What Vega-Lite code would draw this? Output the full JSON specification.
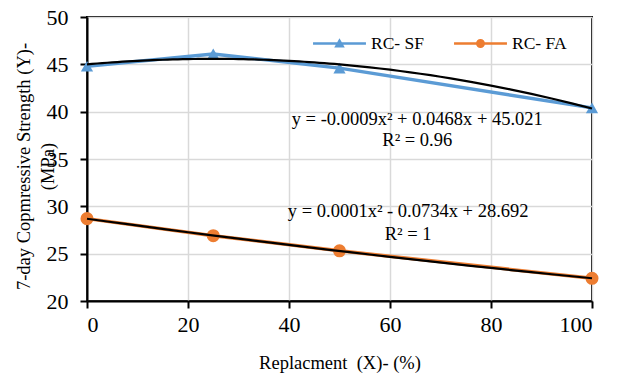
{
  "$schema": "https://vega.github.io/schema/vega-lite/v6.json",
  "autosize": {"type": "none"},
  "padding": {"left": 87, "top": 17, "right": 28, "bottom": 73},
  "width": 505,
  "height": 284,
  "background": "white",
  "config": {
    "font": "Liberation Serif",
    "view": {"stroke": "black", "strokeWidth": 2},
    "axis": {
      "labelFont": "Liberation Serif",
      "labelFontSize": 22,
      "labelColor": "black",
      "titleFont": "Liberation Serif",
      "titleFontSize": 18.5,
      "titleFontWeight": "normal",
      "titleColor": "black",
      "domainColor": "black",
      "domainWidth": 2,
      "tickColor": "black",
      "tickWidth": 2,
      "tickSize": 7,
      "gridColor": "#d9d9d9",
      "gridWidth": 1.5
    }
  },
  "datasets": {
    "pts": [
      {"series": "RC- SF", "x": 0, "y": 44.8},
      {"series": "RC- SF", "x": 25, "y": 46.1},
      {"series": "RC- SF", "x": 50, "y": 44.6},
      {"series": "RC- SF", "x": 100, "y": 40.4},
      {"series": "RC- FA", "x": 0, "y": 28.7},
      {"series": "RC- FA", "x": 25, "y": 26.9},
      {"series": "RC- FA", "x": 50, "y": 25.3},
      {"series": "RC- FA", "x": 100, "y": 22.4}
    ],
    "notes": [
      {"x": 65.4, "y": 39.2, "label": "y = -0.0009x² + 0.0468x + 45.021"},
      {"x": 65.4, "y": 37.0, "label": "R² = 0.96"},
      {"x": 63.6, "y": 29.5, "label": "y = 0.0001x² - 0.0734x + 28.692"},
      {"x": 63.6, "y": 27.1, "label": "R² = 1"}
    ]
  },
  "layer": [
    {
      "data": {"name": "pts"},
      "transform": [{"filter": "datum.series === 'RC- SF'"}],
      "mark": {"type": "line", "color": "#5B9BD5", "strokeWidth": 3.5},
      "encoding": {
        "x": {"field": "x", "type": "quantitative", "scale": {"domain": [0, 100]},
              "axis": {"values": [0, 20, 40, 60, 80, 100], "title": "Replacment\u00a0 (X)- (%)", "labelPadding": 6, "titleY": 61, "titleBaseline": "middle"}},
        "y": {"field": "y", "type": "quantitative", "scale": {"domain": [20, 50]},
              "axis": {"values": [20, 25, 30, 35, 40, 45, 50], "title": ["7-day Copmressive Strength (Y)-", "(MPa)"], "labelPadding": 12, "titleX": -64, "titleY": 149, "titleBaseline": "middle", "titleLineHeight": 24}}
      }
    },
    {
      "data": {"name": "pts"},
      "transform": [{"filter": "datum.series === 'RC- FA'"}],
      "mark": {"type": "line", "color": "#ED7D31", "strokeWidth": 3.5},
      "encoding": {
        "x": {"field": "x", "type": "quantitative"},
        "y": {"field": "y", "type": "quantitative"}
      }
    },
    {
      "data": {"name": "pts"},
      "transform": [{"filter": "datum.series === 'RC- SF'"}],
      "mark": {"type": "point", "shape": "triangle-up", "filled": true, "opacity": 1, "color": "#5B9BD5", "size": 150},
      "encoding": {
        "x": {"field": "x", "type": "quantitative"},
        "y": {"field": "y", "type": "quantitative"}
      }
    },
    {
      "data": {"name": "pts"},
      "transform": [{"filter": "datum.series === 'RC- FA'"}],
      "mark": {"type": "point", "shape": "circle", "filled": true, "opacity": 1, "color": "#ED7D31", "size": 170},
      "encoding": {
        "x": {"field": "x", "type": "quantitative"},
        "y": {"field": "y", "type": "quantitative"}
      }
    },
    {
      "data": {"name": "pts"},
      "transform": [{"regression": "y", "on": "x", "groupby": ["series"], "method": "poly", "order": 2, "extent": [0, 100]}],
      "mark": {"type": "line", "color": "black", "strokeWidth": 2.2},
      "encoding": {
        "x": {"field": "x", "type": "quantitative"},
        "y": {"field": "y", "type": "quantitative"},
        "detail": {"field": "series"}
      }
    },
    {
      "data": {"name": "pts"},
      "mark": {"type": "point", "filled": true, "opacity": 0, "size": 2800},
      "encoding": {
        "x": {"field": "x", "type": "quantitative"},
        "y": {"field": "y", "type": "quantitative"},
        "color": {"field": "series", "type": "nominal",
                  "scale": {"domain": ["RC- SF", "RC- FA"], "range": ["#5B9BD5", "#ED7D31"]},
                  "legend": {"title": null, "orient": "none", "legendX": 226, "legendY": 0, "direction": "horizontal",
                             "symbolOpacity": 1, "symbolSize": 2800, "labelFont": "Liberation Serif", "labelFontSize": 17.5, "labelColor": "black", "labelOffset": 5, "columnPadding": 29, "symbolStrokeWidth": 0}},
        "shape": {"field": "series", "type": "nominal",
                  "scale": {"domain": ["RC- SF", "RC- FA"], "range": ["M-1,-0.05H1V0.05H-1Z M0,-0.2L0.2,0.15L-0.2,0.15Z", "M-1,-0.05H1V0.05H-1Z M0.17,0A0.17,0.17 0 1,1 -0.17,0A0.17,0.17 0 1,1 0.17,0Z"]},
                  "legend": {"title": null, "orient": "none", "legendX": 226, "legendY": 0, "direction": "horizontal",
                             "symbolOpacity": 1, "symbolSize": 2800, "labelFont": "Liberation Serif", "labelFontSize": 17.5, "labelColor": "black", "labelOffset": 5, "columnPadding": 29, "symbolStrokeWidth": 0}}
      }
    },
    {
      "data": {"name": "notes"},
      "mark": {"type": "text", "font": "Liberation Serif", "fontSize": 18.5, "color": "black", "align": "center", "baseline": "middle"},
      "encoding": {
        "x": {"field": "x", "type": "quantitative"},
        "y": {"field": "y", "type": "quantitative"},
        "text": {"field": "label"}
      }
    }
  ]
}
